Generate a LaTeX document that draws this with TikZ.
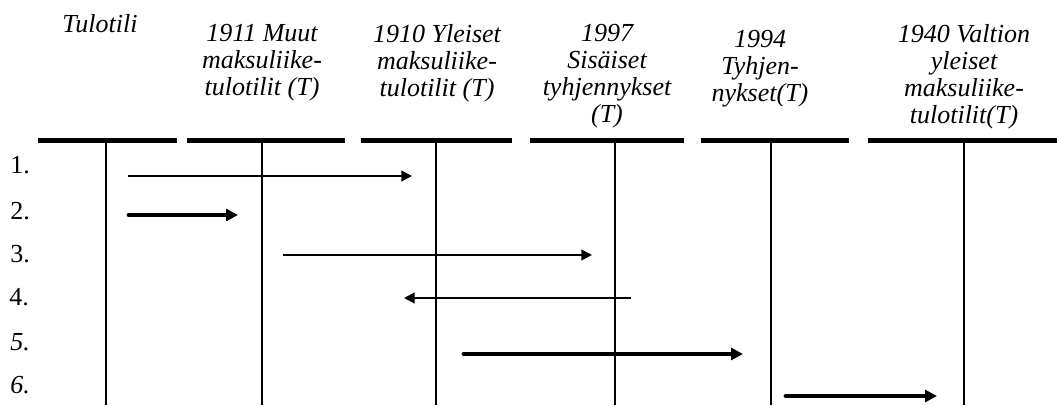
\documentclass[tikz,border=0pt]{standalone}
\usepackage{fontspec}
\setmainfont{Liberation Serif}
\usetikzlibrary{arrows.meta}

\tikzset{
    head/.style = {font = \fontsize{19.5}{20.3}\selectfont\itshape, align = center, anchor = north, inner sep = 0pt},
    rowno/.style = {font = \fontsize{19.5}{20}\selectfont, anchor = base west, inner sep = 0pt},
    bar/.style = {line width = 3.75pt},
    lane/.style = {line width = 1.4pt},
    thinarrow/.style = {line width = 1.5pt, -{Triangle[length = 8pt, width = 8pt]}},
    thickarrow/.style = {line width = 3.6pt, line cap = round, -{Triangle[length = 9pt, width = 9pt]}}
}

\begin{document}
\begin{tikzpicture}[x = 0.75pt, y = -0.75pt]
            % \draw[style = help lines, step = 50] (0,0) grid (1057,405);
            \useasboundingbox (0,0) rectangle (1057,405);

            \node[head] (tulo) at (100,14) {Tulotili};
            \node[head] (muut) at (262,24) {1911 Muut\\maksuliike-\\tulotilit (T)};
            \node[head] (yleiset) at (437,24) {1910 Yleiset\\maksuliike-\\tulotilit (T)};
            \node[head] (sis) at (607,24) {1997\\Sisäiset\\tyhjennykset\\(T)};
            \node[head] (tyhj) at (760,30) {1994\\Tyhjen-\\nykset(T)};
            \node[head] (valtion) at (964,24) {1940 Valtion\\yleiset\\maksuliike-\\tulotilit(T)};

            \draw[bar] (38,140) -- (177,140);
            \draw[bar] (187,140) -- (345,140);
            \draw[bar] (361,140) -- (512,140);
            \draw[bar] (530,140) -- (684,140);
            \draw[bar] (701,140) -- (849,140);
            \draw[bar] (868,140) -- (1057,140);

            \draw[lane] (106,140) -- (106,405);
            \draw[lane] (262,140) -- (262,405);
            \draw[lane] (436,140) -- (436,405);
            \draw[lane] (615,140) -- (615,405);
            \draw[lane] (771,140) -- (771,405);
            \draw[lane] (964,140) -- (964,405);

            \node[rowno] (r1) at (10,173) {1.};
            \node[rowno] (r2) at (10,219) {2.};
            \node[rowno] (r3) at (10,262) {3.};
            \node[rowno] (r4) at (9,305) {4.};
            \node[rowno, font = \fontsize{19.5}{20}\selectfont\itshape] (r5) at (10,350) {5.};
            \node[rowno, font = \fontsize{19.5}{20}\selectfont\itshape] (r6) at (10,393) {6.};

            \coordinate (a1) at (128,176);  \coordinate (b1) at (412,176);
            \coordinate (a2) at (129,215);  \coordinate (b2) at (238,215);
            \coordinate (a3) at (283,255);  \coordinate (b3) at (592,255);
            \coordinate (a4) at (631,298);  \coordinate (b4) at (404,298);
            \coordinate (a5) at (464,354);  \coordinate (b5) at (743,354);
            \coordinate (a6) at (786,396);  \coordinate (b6) at (937,396);

            \draw[thinarrow] (a1) -- (b1);
            \draw[thickarrow] (a2) -- (b2);
            \draw[thinarrow] (a3) -- (b3);
            \draw[thinarrow] (a4) -- (b4);
            \draw[thickarrow] (a5) -- (b5);
            \draw[thickarrow] (a6) -- (b6);
        \end{tikzpicture}
\end{document}
